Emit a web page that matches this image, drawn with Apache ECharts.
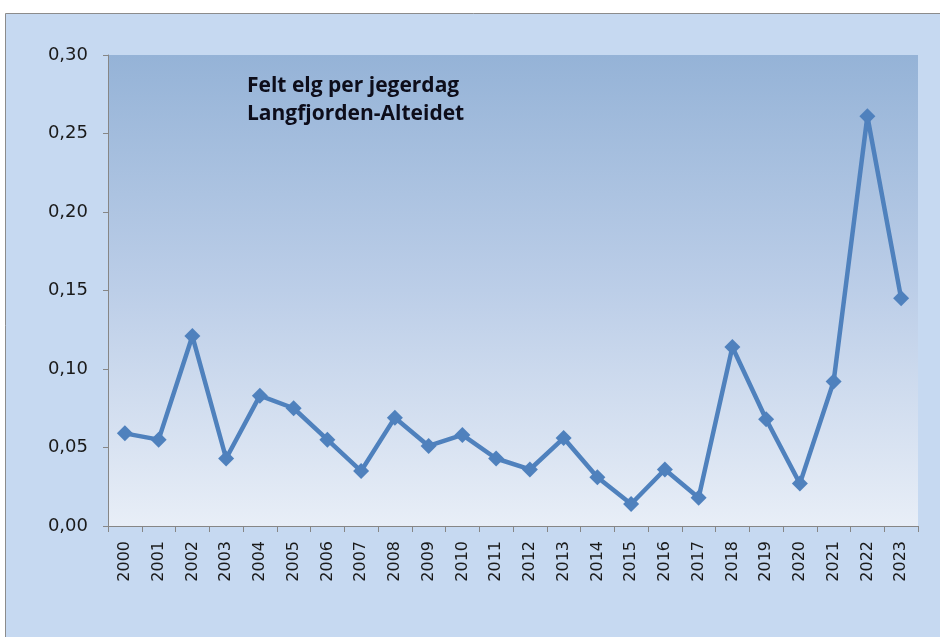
<!DOCTYPE html>
<html>
<head>
<meta charset="utf-8">
<script src="https://cdn.jsdelivr.net/npm/echarts@6/dist/echarts.min.js"></script>
<style>
  html, body { margin: 0; padding: 0; background: #ffffff; }
  #chart { width: 940px; height: 637px; }
</style>
</head>
<body>
<div id="chart"></div>
<script>
const years = ['2000', '2001', '2002', '2003', '2004', '2005', '2006', '2007', '2008', '2009', '2010', '2011',
  '2012', '2013', '2014', '2015', '2016', '2017', '2018', '2019', '2020', '2021', '2022', '2023']
const feltPerDag = [0.059, 0.055, 0.121, 0.043, 0.083, 0.075, 0.055, 0.035, 0.069, 0.051, 0.058, 0.043,
  0.036, 0.056, 0.031, 0.014, 0.036, 0.018, 0.114, 0.068, 0.027, 0.092, 0.261, 0.145]
const titleLines = ['Felt elg per jegerdag', 'Langfjorden-Alteidet']

const chart = echarts.init(document.getElementById('chart'))

chart.setOption({
  backgroundColor: '#ffffff',
  animation: false,
  graphic: [{
    type: 'rect',
    z: -10,
    shape: { x: 5.5, y: 13.5, width: 940, height: 630 },
    style: { fill: '#c6d9f1', stroke: '#8c8c8c', lineWidth: 1 }
  }, {
    type: 'text',
    left: 247,
    top: 72,
    z: 10,
    style: {
      text: titleLines.join('\n'),
      font: 'bold 21px "Open Sans", sans-serif',
      lineHeight: 28,
      fill: '#0d0d1a'
    }
  }],
  grid: {
    left: 108,
    right: 22,
    top: 55,
    bottom: 111,
    show: true,
    borderWidth: 0,
    backgroundColor: new echarts.graphic.LinearGradient(0, 0, 0, 1, [
      { offset: 0, color: '#95b3d7' },
      { offset: 0.5, color: '#bccee8' },
      { offset: 1, color: '#e8eef7' }
    ])
  },
  xAxis: {
    type: 'category',
    data: years,
    boundaryGap: true,
    axisLine: { lineStyle: { color: '#868686', width: 1 } },
    axisTick: { show: true, length: 6, lineStyle: { color: '#868686' } },
    axisLabel: {
      rotate: 90,
      color: '#1a1a1a',
      fontSize: 16,
      fontFamily: 'DejaVu Sans',
      margin: 15
    }
  },
  yAxis: {
    type: 'value',
    min: 0,
    max: 0.30,
    interval: 0.05,
    splitLine: { show: false },
    axisLine: { show: true, lineStyle: { color: '#868686', width: 1 } },
    axisTick: { show: true, length: 5, lineStyle: { color: '#868686' } },
    axisLabel: {
      color: '#1a1a1a',
      fontSize: 18,
      fontFamily: 'DejaVu Sans',
      margin: 20,
      formatter: v => v.toFixed(2).replace('.', ',')
    }
  },
  series: [{
    type: 'line',
    data: feltPerDag,
    symbol: 'diamond',
    symbolSize: 16,
    lineStyle: { color: '#4f81bd', width: 4.5 },
    itemStyle: { color: '#4f81bd' }
  }]
})
</script>
</body>
</html>
